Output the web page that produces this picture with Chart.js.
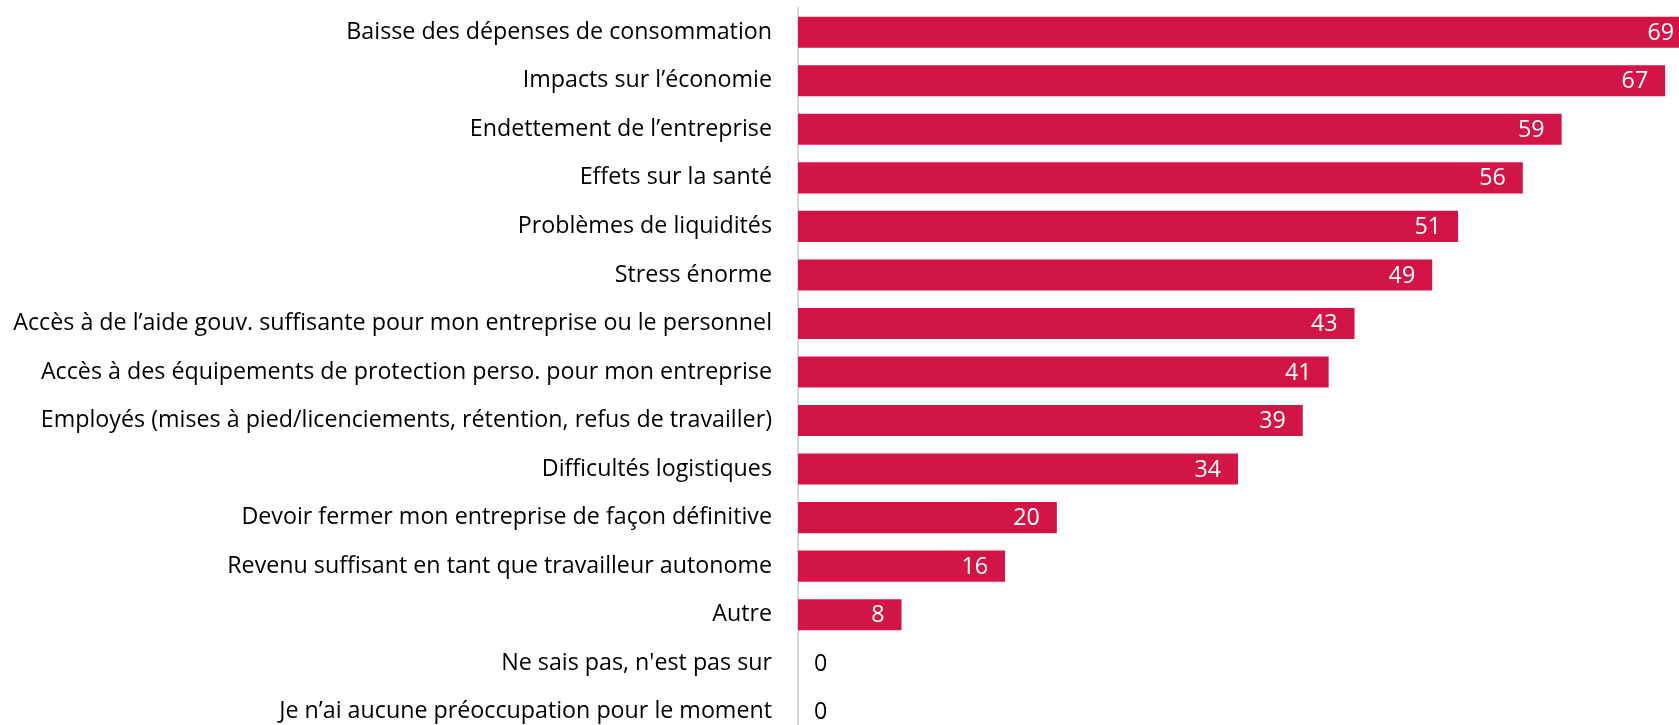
<!DOCTYPE html>
<html lang="fr">
<head>
<meta charset="utf-8">
<title>Préoccupations</title>
<script src="https://cdn.jsdelivr.net/npm/chart.js@4/dist/chart.umd.min.js"></script>
<style>
    html, body { margin: 0; padding: 0; background: #fff; overflow: hidden; width: 1679px; height: 725px; }
    #concernsChart { display: block; }
</style>
</head>
<body>
<canvas id="concernsChart" width="1704" height="736"></canvas>
<script>
// Données du graphique
var categories = [
    'Baisse des dépenses de consommation',
    'Impacts sur l’économie',
    'Endettement de l’entreprise',
    'Effets sur la santé',
    'Problèmes de liquidités',
    'Stress énorme',
    'Accès à de l’aide gouv. suffisante pour mon entreprise ou le personnel',
    'Accès à des équipements de protection perso. pour mon entreprise',
    'Employés (mises à pied/licenciements, rétention, refus de travailler)',
    'Difficultés logistiques',
    'Devoir fermer mon entreprise de façon définitive',
    'Revenu suffisant en tant que travailleur autonome',
    'Autre',
    'Ne sais pas, n\'est pas sur',
    'Je n’ai aucune préoccupation pour le moment'
];
var values = [69, 67, 59, 56, 51, 49, 43, 41, 39, 34, 20, 16, 8, 0, 0];
var xMin = 0;
var xMax = 70;

var fontFamily = '"Open Sans", Lato, sans-serif';

// Taille de police ajustée pour que le libellé le plus long fasse ~759 px (comme Calibri 22px)
function fitFontSize() {
    var c = document.createElement('canvas').getContext('2d');
    var longest = 0;
    c.font = '22px ' + fontFamily;
    categories.forEach(function(label) {
        longest = Math.max(longest, c.measureText(label).width);
    });
    var size = 22 * 759 / longest;
    return Math.max(18, Math.min(24, size));
}

document.addEventListener('DOMContentLoaded', function() {
    var fontSize = fitFontSize();

    // Étiquettes de valeur à l'intérieur des barres
    var valueLabels = {
        id: 'valueLabels',
        afterDatasetsDraw: function(chart) {
            var ctx = chart.ctx;
            var meta = chart.getDatasetMeta(0);
            ctx.save();
            ctx.font = fontSize + 'px ' + fontFamily;
            ctx.textBaseline = 'middle';
            meta.data.forEach(function(bar, i) {
                var v = values[i];
                if (v > 0) {
                    ctx.fillStyle = '#ffffff';
                    ctx.textAlign = 'right';
                    ctx.fillText(String(v), bar.x - 17, bar.y + 1);
                } else {
                    ctx.fillStyle = '#000000';
                    ctx.textAlign = 'left';
                    ctx.fillText(String(v), bar.base + 16, bar.y + 1);
                }
            });
            ctx.restore();
        }
    };

    var ctx = document.getElementById('concernsChart');
    new Chart(ctx, {
        type: 'bar',
        data: {
            labels: categories,
            datasets: [{
                data: values,
                backgroundColor: '#d31446',
                borderWidth: 0,
                barPercentage: 0.64,
                categoryPercentage: 1.0
            }]
        },
        options: {
            indexAxis: 'y',
            responsive: false,
            animation: false,
            layout: { padding: { top: 8, right: 0, bottom: 0, left: 0 } },
            plugins: {
                legend: { display: false },
                tooltip: { enabled: false }
            },
            scales: {
                x: {
                    display: false,
                    min: xMin,
                    max: xMax
                },
                y: {
                    afterFit: function(scale) {
                        scale.width = 798;
                        scale.paddingTop = 0;
                        scale.paddingBottom = 0;
                    },
                    grid: {
                        display: true,
                        color: 'rgba(0,0,0,0)',
                        drawOnChartArea: false,
                        drawTicks: true,
                        tickLength: 26
                    },
                    border: { display: true, color: '#d9d9d9', width: 2 },
                    ticks: {
                        color: '#000000',
                        padding: 0,
                        autoSkip: false,
                        font: { family: fontFamily, size: fontSize }
                    }
                }
            }
        },
        plugins: [valueLabels]
    });
});
</script>
</body>
</html>
